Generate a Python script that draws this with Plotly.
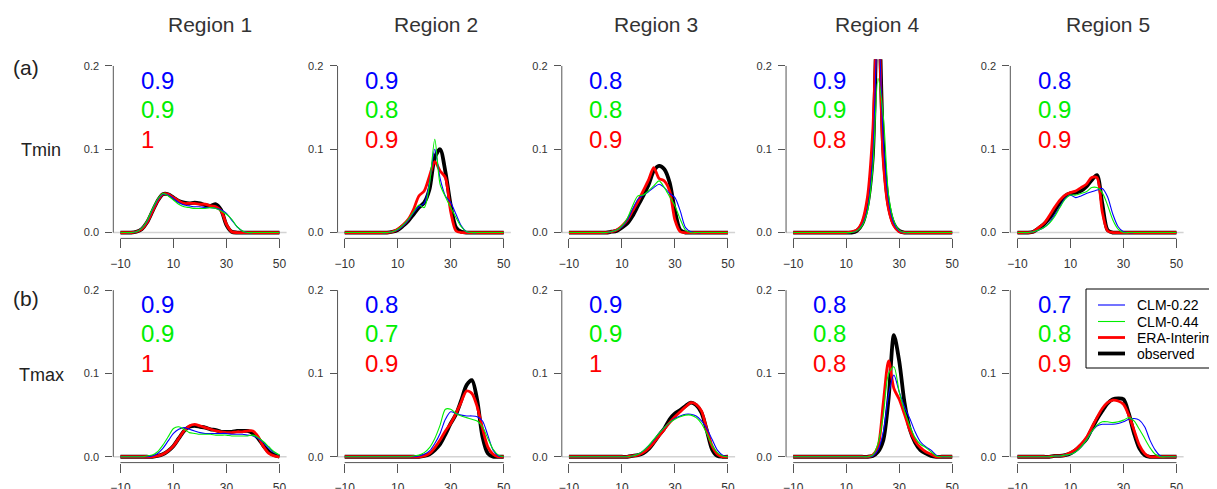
import plotly.graph_objects as go

# ---------------- data ----------------
X_GRID = list(range(-10, 51, 2))  # temperature (deg C), step 2
REGIONS = ["Region 1", "Region 2", "Region 3", "Region 4", "Region 5"]
VARIABLES = ["Tmin", "Tmax"]
PANEL_TAGS = ["(a)", "(b)"]
SERIES_NAMES = ["CLM-0.22", "CLM-0.44", "ERA-Interim", "observed"]

# Tmin densities, one list per region (values at X_GRID)
TMIN_OBS = [
    [0, 0, 0, 0.001, 0.004, 0.012, 0.025, 0.038, 0.046, 0.046, 0.042, 0.038, 0.036, 0.035, 0.036, 0.035, 0.033, 0.032, 0.034, 0.027, 0.009, 0.001, 0, 0, 0, 0, 0, 0, 0, 0, 0],
    [0, 0, 0, 0, 0, 0, 0, 0, 0, 0.001, 0.003, 0.008, 0.014, 0.022, 0.030, 0.036, 0.052, 0.090, 0.100, 0.073, 0.033, 0.006, 0.001, 0, 0, 0, 0, 0, 0, 0, 0],
    [0, 0, 0, 0, 0, 0, 0, 0, 0.001, 0.002, 0.006, 0.011, 0.020, 0.032, 0.044, 0.057, 0.074, 0.080, 0.076, 0.060, 0.026, 0.003, 0, 0, 0, 0, 0, 0, 0, 0, 0],
    [0, 0, 0, 0, 0, 0, 0, 0, 0, 0, 0, 0, 0.002, 0.010, 0.033, 0.090, 0.300, 0.100, 0.033, 0.010, 0.002, 0, 0, 0, 0, 0, 0, 0, 0, 0, 0],
    [0, 0, 0, 0.001, 0.005, 0.010, 0.017, 0.026, 0.036, 0.044, 0.047, 0.048, 0.050, 0.055, 0.063, 0.069, 0.035, 0.003, 0, 0, 0, 0, 0, 0, 0, 0, 0, 0, 0, 0, 0],
]
TMIN_ERA = [
    [0, 0, 0, 0.001, 0.004, 0.012, 0.025, 0.038, 0.046, 0.046, 0.042, 0.038, 0.035, 0.035, 0.035, 0.034, 0.034, 0.032, 0.031, 0.026, 0.010, 0.001, 0, 0, 0, 0, 0, 0, 0, 0, 0],
    [0, 0, 0, 0, 0, 0, 0, 0, 0, 0.001, 0.004, 0.009, 0.016, 0.028, 0.044, 0.050, 0.068, 0.085, 0.074, 0.066, 0.025, 0.002, 0, 0, 0, 0, 0, 0, 0, 0, 0],
    [0, 0, 0, 0, 0, 0, 0, 0, 0.001, 0.003, 0.008, 0.015, 0.026, 0.037, 0.050, 0.063, 0.078, 0.065, 0.062, 0.050, 0.015, 0.001, 0, 0, 0, 0, 0, 0, 0, 0, 0],
    [0, 0, 0, 0, 0, 0, 0, 0, 0, 0, 0, 0.001, 0.003, 0.013, 0.042, 0.120, 0.280, 0.085, 0.028, 0.008, 0.001, 0, 0, 0, 0, 0, 0, 0, 0, 0, 0],
    [0, 0, 0, 0.001, 0.006, 0.011, 0.020, 0.030, 0.039, 0.045, 0.048, 0.050, 0.054, 0.058, 0.066, 0.066, 0.025, 0.002, 0, 0, 0, 0, 0, 0, 0, 0, 0, 0, 0, 0, 0],
]
TMIN_CLM044 = [
    [0, 0, 0, 0.001, 0.005, 0.014, 0.028, 0.040, 0.047, 0.044, 0.039, 0.034, 0.031, 0.030, 0.029, 0.029, 0.029, 0.030, 0.029, 0.026, 0.022, 0.016, 0.007, 0.002, 0, 0, 0, 0, 0, 0, 0],
    [0, 0, 0, 0, 0, 0, 0, 0, 0, 0.001, 0.004, 0.009, 0.016, 0.025, 0.033, 0.030, 0.058, 0.112, 0.058, 0.043, 0.030, 0.018, 0.007, 0.001, 0, 0, 0, 0, 0, 0, 0],
    [0, 0, 0, 0, 0, 0, 0, 0, 0.001, 0.003, 0.008, 0.017, 0.032, 0.044, 0.045, 0.050, 0.056, 0.062, 0.054, 0.043, 0.032, 0.016, 0.003, 0, 0, 0, 0, 0, 0, 0, 0],
    [0, 0, 0, 0, 0, 0, 0, 0, 0, 0, 0, 0, 0.002, 0.008, 0.025, 0.075, 0.185, 0.140, 0.045, 0.014, 0.003, 0, 0, 0, 0, 0, 0, 0, 0, 0, 0],
    [0, 0, 0, 0.001, 0.003, 0.006, 0.011, 0.019, 0.030, 0.040, 0.045, 0.045, 0.047, 0.049, 0.054, 0.054, 0.048, 0.033, 0.015, 0.004, 0, 0, 0, 0, 0, 0, 0, 0, 0, 0, 0],
]
TMIN_CLM022 = [
    [0, 0, 0, 0.001, 0.005, 0.013, 0.027, 0.039, 0.046, 0.045, 0.041, 0.036, 0.033, 0.032, 0.031, 0.031, 0.030, 0.030, 0.029, 0.027, 0.023, 0.015, 0.007, 0.002, 0, 0, 0, 0, 0, 0, 0],
    [0, 0, 0, 0, 0, 0, 0, 0, 0, 0.001, 0.003, 0.008, 0.015, 0.024, 0.031, 0.035, 0.060, 0.100, 0.065, 0.044, 0.036, 0.022, 0.008, 0.001, 0, 0, 0, 0, 0, 0, 0],
    [0, 0, 0, 0, 0, 0, 0, 0, 0.001, 0.003, 0.007, 0.015, 0.028, 0.040, 0.045, 0.049, 0.054, 0.058, 0.054, 0.047, 0.042, 0.026, 0.006, 0.001, 0, 0, 0, 0, 0, 0, 0],
    [0, 0, 0, 0, 0, 0, 0, 0, 0, 0, 0, 0, 0.002, 0.009, 0.028, 0.090, 0.260, 0.110, 0.038, 0.011, 0.002, 0, 0, 0, 0, 0, 0, 0, 0, 0, 0],
    [0, 0, 0, 0.001, 0.003, 0.006, 0.012, 0.021, 0.031, 0.041, 0.045, 0.042, 0.044, 0.047, 0.049, 0.051, 0.053, 0.043, 0.022, 0.007, 0.001, 0, 0, 0, 0, 0, 0, 0, 0, 0, 0],
]

# Tmax densities, one list per region (values at X_GRID)
TMAX_OBS = [
    [0, 0, 0, 0, 0, 0, 0, 0.001, 0.003, 0.007, 0.013, 0.022, 0.031, 0.036, 0.037, 0.036, 0.035, 0.033, 0.032, 0.030, 0.030, 0.030, 0.031, 0.031, 0.031, 0.028, 0.022, 0.013, 0.006, 0.002, 0],
    [0, 0, 0, 0, 0, 0, 0, 0, 0, 0, 0, 0, 0, 0, 0, 0.001, 0.003, 0.008, 0.015, 0.027, 0.040, 0.051, 0.068, 0.086, 0.092, 0.068, 0.024, 0.004, 0, 0, 0],
    [0, 0, 0, 0, 0, 0, 0, 0, 0, 0, 0, 0, 0.001, 0.002, 0.004, 0.009, 0.017, 0.026, 0.034, 0.045, 0.052, 0.056, 0.061, 0.065, 0.062, 0.053, 0.032, 0.009, 0.001, 0, 0],
    [0, 0, 0, 0, 0, 0, 0, 0, 0, 0, 0, 0, 0, 0, 0, 0.001, 0.006, 0.020, 0.070, 0.146, 0.115, 0.065, 0.033, 0.017, 0.008, 0.004, 0.001, 0, 0, 0, 0],
    [0, 0, 0, 0, 0, 0, 0, 0.001, 0.001, 0.002, 0.004, 0.008, 0.014, 0.021, 0.033, 0.045, 0.055, 0.064, 0.069, 0.070, 0.069, 0.052, 0.028, 0.010, 0.002, 0, 0, 0, 0, 0, 0],
]
TMAX_ERA = [
    [0, 0, 0, 0, 0, 0, 0, 0.001, 0.003, 0.007, 0.013, 0.022, 0.031, 0.037, 0.039, 0.037, 0.035, 0.033, 0.031, 0.030, 0.029, 0.029, 0.030, 0.030, 0.031, 0.031, 0.024, 0.012, 0.004, 0.001, 0],
    [0, 0, 0, 0, 0, 0, 0, 0, 0, 0, 0, 0, 0, 0, 0, 0.001, 0.004, 0.011, 0.020, 0.031, 0.040, 0.052, 0.066, 0.079, 0.076, 0.060, 0.034, 0.012, 0.003, 0, 0],
    [0, 0, 0, 0, 0, 0, 0, 0, 0, 0, 0, 0, 0.001, 0.002, 0.005, 0.010, 0.017, 0.025, 0.033, 0.041, 0.048, 0.054, 0.060, 0.065, 0.063, 0.055, 0.033, 0.013, 0.003, 0, 0],
    [0, 0, 0, 0, 0, 0, 0, 0, 0, 0, 0, 0, 0, 0, 0, 0.002, 0.012, 0.065, 0.115, 0.082, 0.069, 0.051, 0.032, 0.019, 0.011, 0.006, 0.003, 0, 0, 0, 0],
    [0, 0, 0, 0, 0, 0, 0, 0.001, 0.001, 0.002, 0.005, 0.009, 0.015, 0.023, 0.035, 0.047, 0.058, 0.065, 0.068, 0.067, 0.063, 0.050, 0.032, 0.014, 0.004, 0, 0, 0, 0, 0, 0],
]
TMAX_CLM044 = [
    [0, 0, 0, 0, 0, 0.001, 0.002, 0.006, 0.014, 0.024, 0.034, 0.036, 0.033, 0.029, 0.028, 0.027, 0.027, 0.027, 0.026, 0.026, 0.026, 0.025, 0.025, 0.025, 0.025, 0.026, 0.023, 0.018, 0.012, 0.006, 0.002],
    [0, 0, 0, 0, 0, 0, 0, 0, 0, 0, 0, 0, 0, 0.001, 0.002, 0.005, 0.011, 0.022, 0.038, 0.057, 0.057, 0.052, 0.049, 0.047, 0.045, 0.043, 0.036, 0.022, 0.009, 0.002, 0],
    [0, 0, 0, 0, 0, 0, 0, 0, 0, 0, 0, 0, 0.001, 0.003, 0.007, 0.013, 0.021, 0.028, 0.035, 0.041, 0.045, 0.048, 0.050, 0.050, 0.047, 0.040, 0.028, 0.014, 0.005, 0.001, 0],
    [0, 0, 0, 0, 0, 0, 0, 0, 0, 0, 0, 0, 0, 0, 0, 0.002, 0.016, 0.050, 0.100, 0.108, 0.078, 0.055, 0.037, 0.023, 0.015, 0.011, 0.006, 0.001, 0, 0, 0],
    [0, 0, 0, 0, 0, 0, 0, 0.001, 0.001, 0.002, 0.003, 0.006, 0.012, 0.020, 0.030, 0.038, 0.042, 0.042, 0.041, 0.042, 0.044, 0.047, 0.043, 0.033, 0.022, 0.011, 0.003, 0, 0, 0, 0],
]
TMAX_CLM022 = [
    [0, 0, 0, 0, 0, 0, 0.001, 0.004, 0.010, 0.019, 0.028, 0.033, 0.035, 0.033, 0.031, 0.029, 0.028, 0.028, 0.028, 0.028, 0.028, 0.027, 0.027, 0.027, 0.026, 0.025, 0.022, 0.017, 0.010, 0.005, 0.002],
    [0, 0, 0, 0, 0, 0, 0, 0, 0, 0, 0, 0, 0, 0, 0.001, 0.003, 0.007, 0.016, 0.028, 0.045, 0.054, 0.052, 0.050, 0.049, 0.049, 0.048, 0.043, 0.026, 0.008, 0.001, 0],
    [0, 0, 0, 0, 0, 0, 0, 0, 0, 0, 0, 0, 0.001, 0.003, 0.007, 0.013, 0.020, 0.028, 0.035, 0.041, 0.046, 0.049, 0.051, 0.051, 0.049, 0.043, 0.034, 0.021, 0.008, 0.002, 0],
    [0, 0, 0, 0, 0, 0, 0, 0, 0, 0, 0, 0, 0, 0, 0, 0.001, 0.008, 0.030, 0.075, 0.098, 0.078, 0.060, 0.046, 0.030, 0.018, 0.012, 0.008, 0.002, 0, 0, 0],
    [0, 0, 0, 0, 0, 0, 0, 0.001, 0.001, 0.002, 0.003, 0.006, 0.012, 0.020, 0.030, 0.037, 0.039, 0.039, 0.039, 0.040, 0.042, 0.045, 0.046, 0.044, 0.036, 0.020, 0.008, 0.001, 0, 0, 0],
]

# correlation labels shown in each panel (CLM-0.22, CLM-0.44, ERA-Interim)
TMIN_CORR_CLM022 = ["0.9", "0.9", "0.8", "0.9", "0.8"]
TMIN_CORR_CLM044 = ["0.9", "0.8", "0.8", "0.9", "0.9"]
TMIN_CORR_ERA = ["1", "0.9", "0.9", "0.8", "0.9"]
TMAX_CORR_CLM022 = ["0.9", "0.8", "0.9", "0.8", "0.7"]
TMAX_CORR_CLM044 = ["0.9", "0.7", "0.9", "0.8", "0.8"]
TMAX_CORR_ERA = ["1", "0.9", "1", "0.8", "0.9"]

X_TICKS = [-10, 10, 30, 50]
Y_TICKS = [0.0, 0.1, 0.2]
Y_TICK_TEXT = ["0.0", "0.1", "0.2"]

# ---------------- styling ----------------
W, H = 1217, 489
PAGE_OFF = 8  # default body margin of the html page
FONT = "Liberation Sans, Arial, sans-serif"
C_BLUE, C_GREEN, C_RED, C_BLACK = "#0000FF", "#00EE00", "#FF0000", "#000000"
AX_COL = "#555555"
TXT_COL = "#333333"


def px(x):
    return (x - PAGE_OFF) / W


def py(y):
    return 1 - (y - PAGE_OFF) / H


X_RANGE = [-12.7, 52.7]
Y_RANGE = [-0.007, 0.208]
PANEL_W = 173.3
PANEL_H = 179.1
COL_LEFT = [113.3 + 224.25 * c for c in range(5)]
ROW_TOP = [59.3 + 224.2 * r for r in range(2)]

data_rows = [
    (TMIN_CLM022, TMIN_CLM044, TMIN_ERA, TMIN_OBS,
     TMIN_CORR_CLM022, TMIN_CORR_CLM044, TMIN_CORR_ERA),
    (TMAX_CLM022, TMAX_CLM044, TMAX_ERA, TMAX_OBS,
     TMAX_CORR_CLM022, TMAX_CORR_CLM044, TMAX_CORR_ERA),
]
SERIES_STYLE = {  # name: (colour, width)
    "CLM-0.22": (C_BLUE, 1.1),
    "CLM-0.44": (C_GREEN, 1.1),
    "ERA-Interim": (C_RED, 2.8),
    "observed": (C_BLACK, 3.8),
}

fig = go.Figure()
layout = dict(
    width=W, height=H,
    margin=dict(l=0, r=0, t=0, b=0, autoexpand=False),
    paper_bgcolor="white", plot_bgcolor="white",
    font=dict(family=FONT, color=TXT_COL),
    showlegend=False,
)
shapes = []
annotations = []

k = 0
for r in range(2):
    clm022, clm044, era, obs, c022, c044, cera = data_rows[r]
    for c in range(5):
        k += 1
        xa = "x" if k == 1 else f"x{k}"
        ya = "y" if k == 1 else f"y{k}"
        xkey = "xaxis" if k == 1 else f"xaxis{k}"
        ykey = "yaxis" if k == 1 else f"yaxis{k}"
        layout[xkey] = dict(
            domain=[px(COL_LEFT[c]), px(COL_LEFT[c] + PANEL_W)], range=X_RANGE, anchor=ya,
            showgrid=False, zeroline=False, showline=False,
            tickmode="array", tickvals=X_TICKS,
            ticks="outside", ticklen=9, tickwidth=1, tickcolor=AX_COL,
            tickfont=dict(size=12, color=TXT_COL, family=FONT),
            ticklabelstandoff=5,
        )
        layout[ykey] = dict(
            domain=[py(ROW_TOP[r] + PANEL_H), py(ROW_TOP[r])], range=Y_RANGE, anchor=xa,
            showgrid=False, zeroline=False, showline=False,
            tickmode="array", tickvals=Y_TICKS, ticktext=Y_TICK_TEXT,
            ticks="outside", ticklen=7, tickwidth=1, tickcolor=AX_COL,
            tickfont=dict(size=11, color=TXT_COL, family=FONT),
            ticklabelstandoff=4,
        )
        # zero reference line (light grey, full width)
        shapes.append(dict(type="line", xref=f"{xa} domain", yref=ya,
                           x0=0, x1=1, y0=0, y1=0, layer="below",
                           line=dict(color="#D3D3D3", width=1.5)))
        # R-style detached axis lines
        shapes.append(dict(type="line", xref=xa, yref=f"{ya} domain",
                           x0=X_TICKS[0], x1=X_TICKS[-1], y0=0, y1=0,
                           line=dict(color=AX_COL, width=1)))
        shapes.append(dict(type="line", xref=f"{xa} domain", yref=ya,
                           x0=0, x1=0, y0=Y_TICKS[0], y1=Y_TICKS[-1],
                           line=dict(color=AX_COL, width=1)))

        for yvals, name in ((obs[c], "observed"), (era[c], "ERA-Interim"),
                            (clm022[c], "CLM-0.22"), (clm044[c], "CLM-0.44")):
            col, lw = SERIES_STYLE[name]
            fig.add_trace(go.Scatter(
                x=X_GRID, y=yvals, mode="lines", name=name,
                line=dict(color=col, width=lw, shape="spline", smoothing=0.8),
                xaxis=xa, yaxis=ya, hoverinfo="skip",
            ))

        for txt, col, yy in ((c022[c], C_BLUE, 0.183), (c044[c], C_GREEN, 0.148),
                             (cera[c], C_RED, 0.112)):
            annotations.append(dict(
                text=txt, x=-3.1, y=yy, xref=xa, yref=ya,
                xanchor="left", yanchor="middle", showarrow=False,
                font=dict(size=24, color=col, family=FONT),
            ))

# column titles
TITLE_X = [210, 436, 656, 877, 1108]
for c in range(5):
    annotations.append(dict(
        text=REGIONS[c], x=px(TITLE_X[c]), y=py(25), xref="paper", yref="paper",
        xanchor="center", yanchor="middle", showarrow=False,
        font=dict(size=21, color=TXT_COL, family=FONT),
    ))
# row tags and variable names
for r, (tag_y, var_y) in enumerate(((68, 150), (298, 375))):
    annotations.append(dict(
        text=PANEL_TAGS[r], x=px(26), y=py(tag_y), xref="paper", yref="paper",
        xanchor="center", yanchor="middle", showarrow=False,
        font=dict(size=21, color="#222222", family=FONT),
    ))
    annotations.append(dict(
        text=VARIABLES[r], x=px(41), y=py(var_y), xref="paper", yref="paper",
        xanchor="center", yanchor="middle", showarrow=False,
        font=dict(size=18, color="#222222", family=FONT),
    ))

# legend box (R style, running off the right edge)
LEG_LEFT, LEG_TOP, LEG_BOTTOM = 1086, 289, 368
LEG_ROWS = [305, 321.5, 337.5, 353.5]
shapes.append(dict(type="rect", xref="paper", yref="paper",
                   x0=px(LEG_LEFT), x1=px(LEG_LEFT + 160), y0=py(LEG_BOTTOM), y1=py(LEG_TOP),
                   line=dict(color="#000000", width=1), fillcolor="white", layer="above"))
for name, ly in zip(SERIES_NAMES, LEG_ROWS):
    col, lw = SERIES_STYLE[name]
    shapes.append(dict(type="line", xref="paper", yref="paper",
                       x0=px(1098), x1=px(1125), y0=py(ly), y1=py(ly),
                       line=dict(color=col, width=lw), layer="above"))
    annotations.append(dict(
        text=name, x=px(1135), y=py(ly), xref="paper", yref="paper",
        xanchor="left", yanchor="middle", showarrow=False,
        font=dict(size=14, color="#000000", family=FONT),
    ))

layout["shapes"] = shapes
layout["annotations"] = annotations
fig.update_layout(**layout)
fig.write_html("out.html")
